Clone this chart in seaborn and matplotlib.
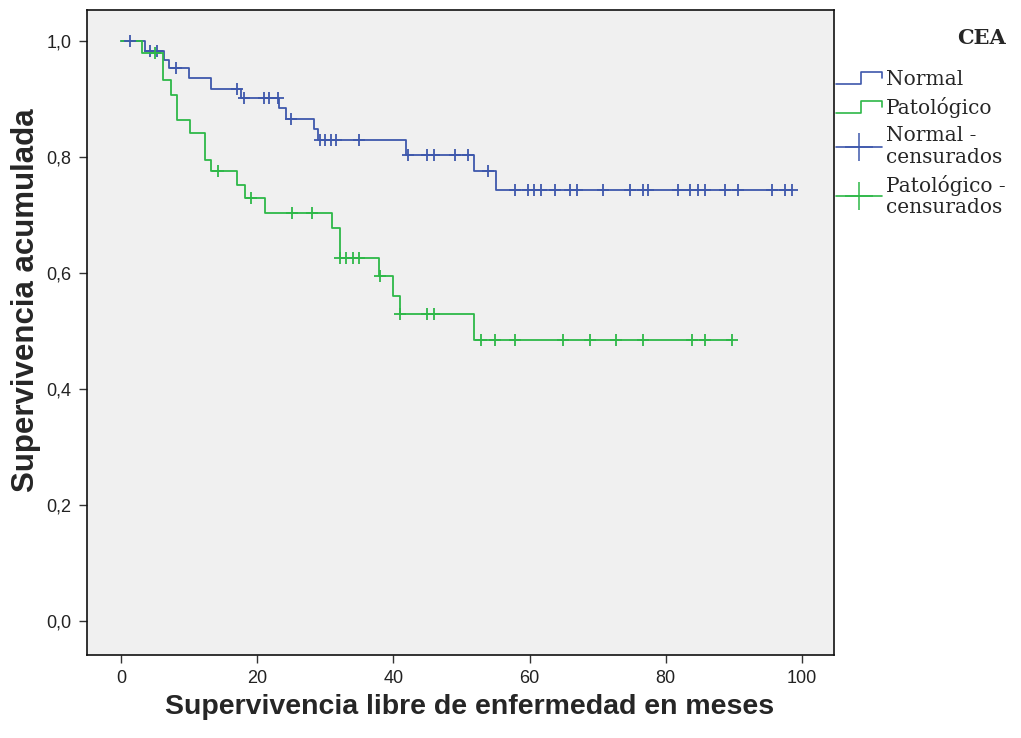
import numpy as np
import pandas as pd
import seaborn as sns
import matplotlib
matplotlib.use("Agg")
import matplotlib.pyplot as plt
from matplotlib import font_manager
from matplotlib.lines import Line2D
from matplotlib.legend_handler import HandlerBase
from matplotlib.ticker import FuncFormatter

# Kaplan-Meier steps (time in months, cumulative survival)
normal_times = [0, 3.5, 6.3, 7.1, 10.0, 13.2, 17.6, 23.2, 24.2, 28.4, 28.9, 41.9, 51.9, 55.0]
normal_surv = [1.0, 0.982, 0.967, 0.953, 0.936, 0.917, 0.901, 0.884, 0.865, 0.847, 0.828, 0.803, 0.775, 0.743]
normal_end = 98.5
normal_cens = [1.3, 4.2, 5.3, 8.1, 17.1, 18.1, 21.0, 21.8, 23.0, 24.9, 29.2, 30.0, 30.8, 31.6, 35.0,
               42.2, 45.0, 46.0, 49.0, 50.9, 53.9, 57.8, 59.8, 60.6, 61.7, 63.8, 65.9, 66.9, 70.8,
               74.8, 76.7, 77.4, 81.8, 83.6, 84.7, 85.7, 88.7, 90.6, 95.6, 97.5, 98.5]

pato_times = [0, 3.1, 6.1, 7.3, 8.2, 10.2, 12.3, 13.2, 17.1, 18.2, 21.2, 31.0, 32.1, 37.9, 40.0, 40.9, 51.9]
pato_surv = [1.0, 0.978, 0.933, 0.907, 0.864, 0.841, 0.795, 0.775, 0.751, 0.728, 0.703, 0.677, 0.625,
             0.595, 0.560, 0.528, 0.484]
pato_end = 89.8
pato_cens = [5.0, 14.2, 19.1, 25.1, 28.1, 32.1, 33.0, 34.0, 35.0, 38.0, 41.0, 45.0, 46.0, 52.9, 54.9,
             57.9, 64.9, 68.8, 72.7, 76.7, 83.8, 85.7, 89.7]

groups = ["Normal", "Patológico"]
colors = {"Normal": "#3E58AC", "Patológico": "#2EB848"}

sns.set_style("ticks")
plt.rcParams["font.family"] = ["Liberation Sans", "DejaVu Sans"]


def step_frame(name, times, surv, end):
    t = list(times) + [end]
    s = list(surv) + [surv[-1]]
    return pd.DataFrame({"time": t, "surv": s, "group": name})


def cens_frame(name, times, surv, cens):
    idx = np.searchsorted(times, cens, side="right") - 1
    return pd.DataFrame({"time": cens, "surv": np.array(surv)[idx], "group": name})


steps = pd.concat([step_frame("Normal", normal_times, normal_surv, normal_end),
                   step_frame("Patológico", pato_times, pato_surv, pato_end)])
cens = pd.concat([cens_frame("Normal", normal_times, normal_surv, normal_cens),
                  cens_frame("Patológico", pato_times, pato_surv, pato_cens)])

fig = plt.figure(figsize=(10.21, 7.38), dpi=100)
ax = fig.add_axes([0.0852, 0.1125, 0.7316, 0.874])
ax.set_facecolor("#F0F0F0")

for g in groups:
    sns.lineplot(data=steps[steps.group == g], x="time", y="surv", ax=ax, color=colors[g],
                 drawstyle="steps-post", estimator=None, sort=False, lw=1.3, legend=False)
    sns.scatterplot(data=cens[cens.group == g], x="time", y="surv", ax=ax, color=colors[g],
                    marker="+", s=70, linewidth=1.3, legend=False, zorder=3)

ax.set_xlim(-5, 104.7)
ax.set_ylim(-0.059, 1.053)
ax.set_xticks([0, 20, 40, 60, 80, 100])
ax.set_yticks([0, 0.2, 0.4, 0.6, 0.8, 1.0])
ax.yaxis.set_major_formatter(FuncFormatter(lambda v, p: f"{v:.1f}".replace(".", ",")))

ax.tick_params(axis="both", direction="out", length=6, width=1, color="#333333",
               labelsize=13, labelcolor="#222222", pad=5)
for sp in ax.spines.values():
    sp.set_visible(True)
    sp.set_color("#111111")
    sp.set_linewidth(1.2)

ax.set_xlabel("Supervivencia libre de enfermedad en meses", fontsize=20.5, fontweight="bold")
ax.set_ylabel("Supervivencia acumulada", fontsize=22.5, fontweight="bold")
ax.xaxis.set_label_coords(0.512, -0.06)
ax.yaxis.set_label_coords(-0.062, 0.55)


class StepHandler(HandlerBase):
    def create_artists(self, legend, orig_handle, xdescent, ydescent, width, height,
                       fontsize, trans):
        x0 = -xdescent
        y0 = -ydescent
        xs = [x0, x0 + 0.55 * width, x0 + 0.55 * width, x0 + width, x0 + width]
        ys = [y0 + 0.1 * height, y0 + 0.1 * height, y0 + 0.95 * height,
              y0 + 0.95 * height, y0 + 0.55 * height]
        ln = Line2D(xs, ys, color=orig_handle.get_color(), lw=orig_handle.get_linewidth(),
                    transform=trans)
        return [ln]


h_norm = Line2D([], [], color=colors["Normal"], lw=1.2)
h_pato = Line2D([], [], color=colors["Patológico"], lw=1.2)
h_norm_c = Line2D([], [], color=colors["Normal"], lw=1.2, marker="+", markersize=20, mew=1.1)
h_pato_c = Line2D([], [], color=colors["Patológico"], lw=1.2, marker="+", markersize=20, mew=1.1)

serif = font_manager.FontProperties(family="DejaVu Serif", size=14.5)
serif_b = font_manager.FontProperties(family="DejaVu Serif", size=15, weight="bold")
leg = ax.legend([h_norm, h_pato, h_norm_c, h_pato_c],
                ["Normal", "Patológico", "Normal -\ncensurados", "Patológico -\ncensurados"],
                title="CEA", loc="upper left", bbox_to_anchor=(1.0, 0.975), frameon=False,
                prop=serif, title_fontproperties=serif_b, handlelength=2.3, handletextpad=0.2,
                labelspacing=0.4, borderaxespad=0, borderpad=0.1, alignment="right",
                handler_map={h_norm: StepHandler(), h_pato: StepHandler()})
for t in leg.get_texts():
    t.set_linespacing(1.15)
leg._legend_box.sep = 16

fig.savefig("out.png", dpi=100, facecolor="white")
